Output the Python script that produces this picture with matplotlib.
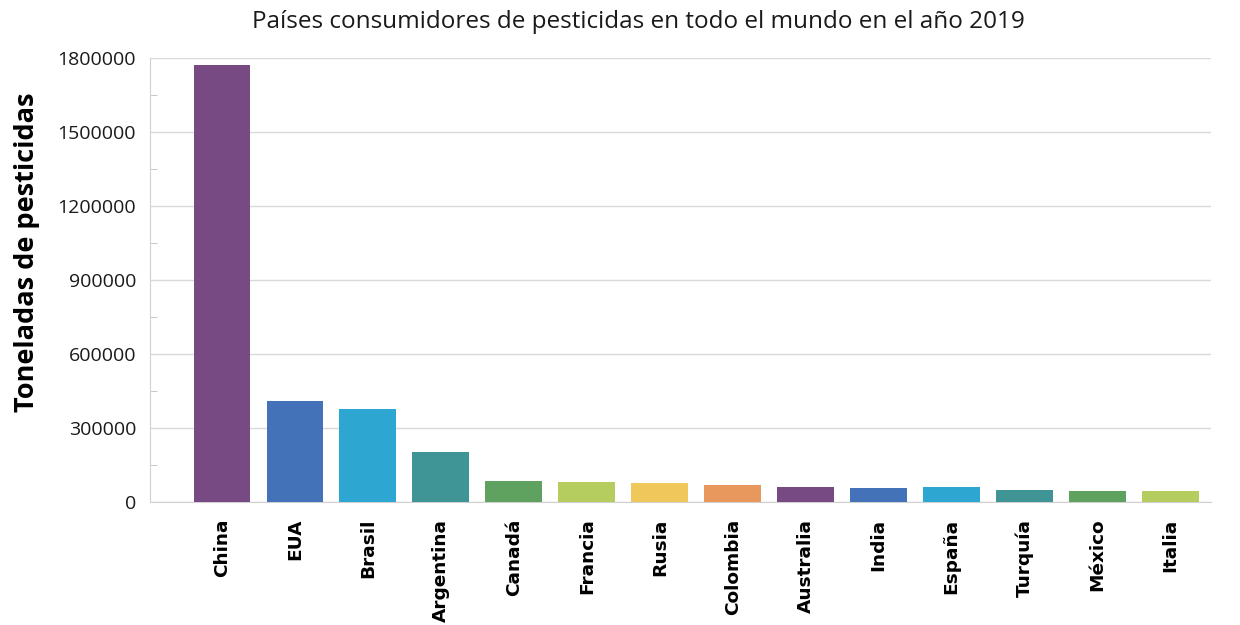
import matplotlib.pyplot as plt
from matplotlib.ticker import MultipleLocator, StrMethodFormatter

# Consumo de pesticidas por país (toneladas), 2019
paises = ["China", "EUA", "Brasil", "Argentina", "Canadá", "Francia", "Rusia",
          "Colombia", "Australia", "India", "España", "Turquía", "México", "Italia"]
toneladas = [1773000, 407800, 377200, 202700, 84000, 81000, 75800,
             67600, 60800, 58000, 59600, 48600, 45800, 45800]

paleta = ["#774a84", "#4472b8", "#2ea6d2", "#3f9595", "#5fa25f", "#b5cc5e", "#f0c75a", "#e8985c"]
colores = [paleta[i % len(paleta)] for i in range(len(paises))]

plt.rcParams['font.family'] = ['Open Sans', 'DejaVu Sans']

fig = plt.figure(figsize=(12.4, 6.25), dpi=100)
ax = fig.add_axes([0.121, 0.197, 0.856, 0.71])

x = range(len(paises))
ax.bar(x, toneladas, width=0.78, color=colores, zorder=3)

ax.set_ylim(0, 1800000)
ax.set_xlim(-0.986, len(paises) - 0.44)
ax.yaxis.set_major_locator(MultipleLocator(300000))
ax.yaxis.set_minor_locator(MultipleLocator(150000))
ax.yaxis.set_major_formatter(StrMethodFormatter("{x:.0f}"))
ax.grid(axis='y', color='#d9d9d9', linewidth=1, zorder=0)

ax.set_xticks(list(x))
ax.set_xticklabels(paises, rotation=90, fontsize=13.3, fontweight='bold',
                   family='DejaVu Sans')
ax.tick_params(axis='x', length=0, pad=12)
ax.tick_params(axis='y', which='major', length=0, labelsize=14, pad=10,
               labelcolor='#1a1a1a')
ax.tick_params(axis='y', which='minor', length=5, direction='in', color='#bfbfbf')

for s in ['top', 'right']:
    ax.spines[s].set_visible(False)
for s in ['left', 'bottom']:
    ax.spines[s].set_color('#d0d0d0')

ax.set_ylabel("Toneladas de pesticidas", fontsize=19.5, fontweight='bold')
ax.yaxis.set_label_coords(-0.104, 0.563)
ax.set_title("Países consumidores de pesticidas en todo el mundo en el año 2019",
             fontsize=17.5, pad=22, color='#1a1a1a', x=0.46)

fig.savefig("out.png", dpi=100)
